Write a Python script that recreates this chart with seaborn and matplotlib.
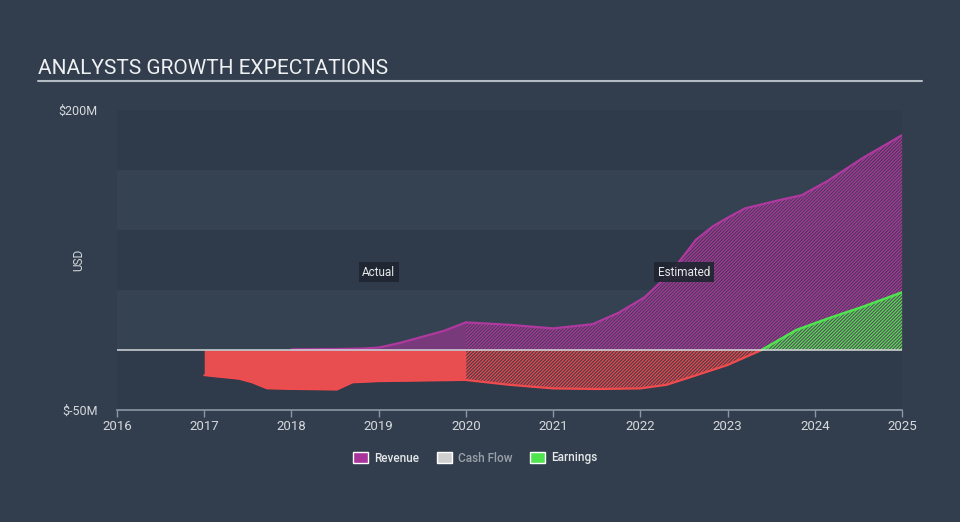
import matplotlib
matplotlib.use("Agg")
import matplotlib.pyplot as plt
import seaborn as sns
from matplotlib.patches import Patch
from matplotlib.lines import Line2D

# values (USD millions)
rev_act_year = [2018.0, 2018.5, 2018.8, 2019.0, 2019.25, 2019.5, 2019.75, 2020.0]
rev_act_val = [0.5, 0.8, 1.2, 2.0, 6.0, 11.0, 16.0, 23.0]

rev_est_year = [2020.0, 2020.5, 2021.0, 2021.45, 2021.75, 2022.05, 2022.3, 2022.45,
                2022.64, 2022.83, 2023.02, 2023.2, 2023.6, 2023.85, 2024.15, 2024.55, 2025.0]
rev_est_val = [23, 21, 18, 21.5, 31, 44, 61, 74, 92, 103, 111, 118, 125, 129, 141, 160, 179]

earn_act_year = [2017.0, 2017.4, 2017.55, 2017.72, 2018.0, 2018.52, 2018.7, 2019.0, 2019.5, 2020.0]
earn_act_val = [-21, -24, -27, -32, -32.5, -33, -27, -26, -25.5, -25]

earn_est_year = [2020.0, 2020.5, 2021.0, 2021.5, 2022.0, 2022.3, 2022.6, 2023.0,
                 2023.39, 2023.79, 2024.17, 2024.55, 2025.0]
earn_est_val = [-25, -29, -32, -32.5, -32, -29, -22, -12.5, 0, 16.7, 26.7, 36, 48]

years = list(range(2016, 2026))
legend_labels = ["Revenue", "Cash Flow", "Earnings"]

# colours
bg = "#323e4d"
band_light = "#344251"
band_dark = "#2f3b4a"
magenta = "#b0399f"
red = "#f04b4e"
green = "#4fe34f"
text_col = "#d6d9dd"
hatch = "//////////"

sns.set_theme(style="dark")
plt.rcParams["font.family"] = ["Roboto", "DejaVu Sans"]
plt.rcParams["hatch.linewidth"] = 0.8

fig = plt.figure(figsize=(9.6, 5.22), dpi=100, facecolor=bg)
ax = fig.add_axes([117 / 960, 1 - 410 / 522, 785 / 960, 300 / 522])
ax.set_facecolor(band_light)
for lo in [150, 50, -50]:
    ax.axhspan(lo, lo + 50, color=band_dark, lw=0, zorder=0)

# actual revenue
ax.fill_between(rev_act_year, 0, rev_act_val, color="#783a7a", lw=0, zorder=2)
sns.lineplot(x=rev_act_year, y=rev_act_val, color=magenta, lw=1.6, ax=ax, zorder=3)

# estimated revenue
ax.fill_between(rev_est_year, 0, rev_est_val, facecolor=(0.42, 0.2, 0.42, 0.45), lw=0, zorder=2)
ax.fill_between(rev_est_year, 0, rev_est_val, facecolor="none", edgecolor=magenta,
                hatch=hatch, lw=0, zorder=2)
sns.lineplot(x=rev_est_year, y=rev_est_val, color=magenta, lw=1.6, ax=ax, zorder=3)

# actual earnings (negative -> red)
ax.fill_between(earn_act_year, 0, earn_act_val, color="#e84e50", lw=0, zorder=2)
sns.lineplot(x=earn_act_year, y=earn_act_val, color=red, lw=1.4, ax=ax, zorder=3)

# estimated earnings: red below zero, green above
split = earn_est_val.index(0) + 1
neg_x, neg_y = earn_est_year[:split], earn_est_val[:split]
pos_x, pos_y = earn_est_year[split - 1:], earn_est_val[split - 1:]
ax.fill_between(neg_x, 0, neg_y, facecolor=(0.5, 0.25, 0.28, 0.4), lw=0, zorder=2)
ax.fill_between(neg_x, 0, neg_y, facecolor="none", edgecolor=red, hatch=hatch, lw=0, zorder=2)
sns.lineplot(x=neg_x, y=neg_y, color=red, lw=1.6, ax=ax, zorder=3)
ax.fill_between(pos_x, 0, pos_y, facecolor=(0.3, 0.55, 0.3, 0.35), lw=0, zorder=2)
ax.fill_between(pos_x, 0, pos_y, facecolor="none", edgecolor=green, hatch=hatch, lw=0, zorder=2)
sns.lineplot(x=pos_x, y=pos_y, color=green, lw=1.8, ax=ax, zorder=3)

ax.axhline(0, color="#d5d8dc", lw=1.1, zorder=4)

# actual / estimated labels
box = dict(boxstyle="square,pad=0.3", facecolor="#1f2631", edgecolor="none", alpha=0.92)
ax.text(2019.0, 65, "Actual", color="#e6e8ea", fontsize=8.5, ha="center", va="center", bbox=box, zorder=6)
ax.text(2022.5, 65, "Estimated", color="#e6e8ea", fontsize=8.5, ha="center", va="center", bbox=box, zorder=6)

ax.set_xlim(2016, 2025)
ax.set_ylim(-50, 200)
ax.set_xticks(years)
ax.set_xticklabels([str(y) for y in years], color=text_col, fontsize=9.5)
ax.set_yticks([-50, 200])
ax.set_yticklabels(["$-50M", "$200M"], color=text_col, fontsize=9)
ax.tick_params(axis="x", length=5, width=1, color="#8d97a4", pad=2, bottom=True)
ax.tick_params(axis="y", length=0, pad=14)
ax.set_xlabel("")
ax.set_ylabel("USD", color=text_col, fontsize=8.5)
ax.yaxis.set_label_coords(-(117 - 85) / 785, 0.5)
for s in ["top", "right", "left"]:
    ax.spines[s].set_visible(False)
ax.spines["bottom"].set_color("#8d97a4")
ax.spines["bottom"].set_linewidth(1.2)
ax.grid(False)

# title with underline
fig.text(38 / 960, 1 - 69 / 522, "ANALYSTS GROWTH EXPECTATIONS", color="#eef0f2",
         fontsize=15, va="center", ha="left")
fig.add_artist(Line2D([38 / 960, 922 / 960], [1 - 81 / 522, 1 - 81 / 522],
                      color="#b5bbc3", lw=1.5))

# legend
handles = [Patch(facecolor="#a8339b"), Patch(facecolor="#d0d0d0"), Patch(facecolor=green)]
leg = fig.legend(handles, legend_labels, loc="center", bbox_to_anchor=(475 / 960, 1 - 458 / 522),
                 ncol=3, frameon=False, fontsize=8.5, handlelength=1.3, handleheight=1.0,
                 columnspacing=1.5, handletextpad=0.5,
                 prop={"size": 8.5, "weight": "medium"})
for t, c in zip(leg.get_texts(), ["#e6e8ea", "#9aa1ab", "#e6e8ea"]):
    t.set_color(c)

fig.savefig("out.png", dpi=100, facecolor=bg)
